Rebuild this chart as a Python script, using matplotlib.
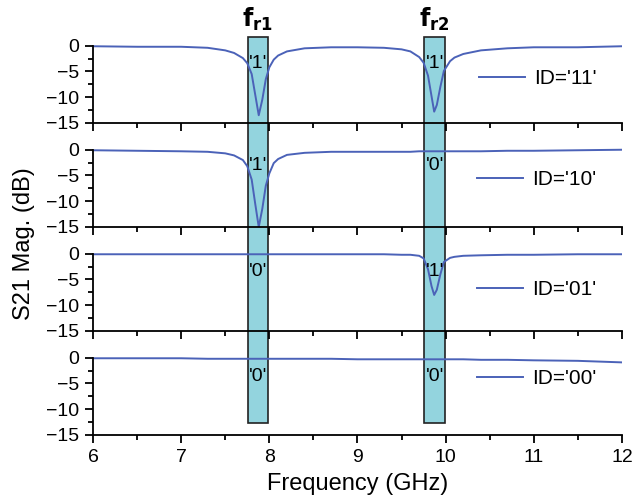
import matplotlib.pyplot as plt
from matplotlib.patches import Rectangle
from matplotlib.transforms import blended_transform_factory
from matplotlib.ticker import MultipleLocator, FixedLocator

plt.rcParams['font.family'] = ['Liberation Sans', 'DejaVu Sans']

# frequency points (GHz)
freq = [6.0, 6.5, 7.0, 7.3, 7.5, 7.6, 7.7, 7.75, 7.8, 7.84, 7.88, 7.92, 7.96, 8.0,
        8.05, 8.1, 8.2, 8.4, 8.7, 9.0, 9.3, 9.5, 9.6, 9.7, 9.75, 9.8, 9.84, 9.87,
        9.9, 9.94, 9.98, 10.05, 10.1, 10.2, 10.4, 10.7, 11.0, 11.5, 12.0]

s21_11 = [-0.1, -0.2, -0.2, -0.4, -0.9, -1.4, -2.4, -3.4, -5.5, -9.5, -13.5, -10.5, -6.5, -4.2,
          -2.7, -1.9, -1.1, -0.5, -0.3, -0.3, -0.4, -0.7, -1.1, -2.2, -3.3, -5.8, -9.8, -12.8,
          -11.5, -8.0, -4.9, -3.0, -2.3, -1.6, -0.9, -0.5, -0.3, -0.3, -0.1]
s21_10 = [-0.1, -0.2, -0.3, -0.4, -0.7, -1.1, -2.0, -3.2, -5.8, -10.5, -15.0, -11.5, -7.0, -4.6,
          -2.6, -1.8, -1.0, -0.6, -0.4, -0.4, -0.4, -0.4, -0.4, -0.3, -0.3, -0.3, -0.3, -0.3,
          -0.3, -0.3, -0.3, -0.3, -0.3, -0.3, -0.3, -0.2, -0.2, -0.1, 0.0]
s21_01 = [-0.1, -0.1, -0.1, -0.1, -0.1, -0.1, -0.1, -0.1, -0.1, -0.1, -0.1, -0.1, -0.1, -0.1,
          -0.1, -0.1, -0.1, -0.1, -0.1, -0.1, -0.1, -0.2, -0.2, -0.4, -0.9, -3.0, -6.3, -8.0,
          -7.0, -4.0, -1.6, -0.8, -0.6, -0.4, -0.3, -0.2, -0.2, -0.1, -0.1]
s21_00 = [-0.1, -0.1, -0.1, -0.2, -0.2, -0.2, -0.2, -0.2, -0.2, -0.2, -0.2, -0.2, -0.2, -0.2,
          -0.2, -0.2, -0.2, -0.2, -0.2, -0.3, -0.3, -0.3, -0.3, -0.3, -0.3, -0.3, -0.3, -0.3,
          -0.3, -0.3, -0.3, -0.3, -0.3, -0.3, -0.4, -0.4, -0.5, -0.6, -0.9]

curves = [s21_11, s21_10, s21_01, s21_00]
ids = ["ID='11'", "ID='10'", "ID='01'", "ID='00'"]
bits1 = ["'1'", "'1'", "'0'", "'0'"]
bits2 = ["'1'", "'0'", "'1'", "'0'"]
bit_y = [-3.5, -3.1, -3.5, -3.7]
legend_y = [-6.4, -5.8, -7.0, -4.1]

bands = [(7.76, 7.98), (9.76, 9.99)]
band_names = [r'$\mathbf{f}_{\mathbf{r1}}$', r'$\mathbf{f}_{\mathbf{r2}}$']

line_color = '#4b62b8'
band_color = '#93d4de'

fig, axes = plt.subplots(4, 1, sharex=True, figsize=(6.34, 4.99), dpi=100)
fig.subplots_adjust(left=0.1467, right=0.981, bottom=0.1283, top=0.962, hspace=0)

for i, ax in enumerate(axes):
    ax.set_facecolor('none')
    ax.plot(freq, curves[i], color=line_color, lw=1.4, label=ids[i])
    ax.set_xlim(6, 12)
    ax.set_ylim(-15, 5.2)
    ax.set_yticks([0, -5, -10, -15])
    ax.yaxis.set_minor_locator(FixedLocator([-2.5, -7.5, -12.5]))
    ax.xaxis.set_major_locator(MultipleLocator(1))
    ax.xaxis.set_minor_locator(MultipleLocator(0.5))
    ax.spines['top'].set_visible(False)
    ax.spines['right'].set_visible(False)
    ax.spines['left'].set_bounds(-15, 0)
    ax.spines['left'].set_linewidth(1.3)
    ax.spines['bottom'].set_linewidth(1.3)
    ax.tick_params(which='major', direction='out', length=6, width=1.3, pad=4, labelsize=14)
    ax.tick_params(which='minor', direction='out', length=3.5, width=1.3)
    ax.text(sum(bands[0]) / 2, bit_y[i], bits1[i], ha='center', va='center', fontsize=14)
    ax.text(sum(bands[1]) / 2, bit_y[i], bits2[i], ha='center', va='center', fontsize=14)
    leg_anchor = (0.968, (legend_y[i] + 15) / 20.2)
    ax.legend(loc='center right', bbox_to_anchor=leg_anchor, frameon=False,
              fontsize=15, handlelength=2.2, handletextpad=0.45, borderaxespad=0)

# vertical bands drawn behind the transparent axes
trans = blended_transform_factory(axes[-1].transData, fig.transFigure)
for (x0, x1), name in zip(bands, band_names):
    rect = Rectangle((x0, 0.152), x1 - x0, 0.926 - 0.152, transform=trans,
                     facecolor=band_color, edgecolor='#222222', lw=1.2, zorder=-1)
    fig.patches.append(rect)
    fig.text((x0 + x1) / 2, 0.933, name, transform=trans, ha='center', va='bottom',
             fontsize=17)

axes[-1].set_xlabel('Frequency (GHz)', fontsize=17, labelpad=5)
fig.text(0.038, 0.511, 'S21 Mag. (dB)', rotation=90, ha='center', va='center', fontsize=17)

fig.savefig('out.png', dpi=100)
